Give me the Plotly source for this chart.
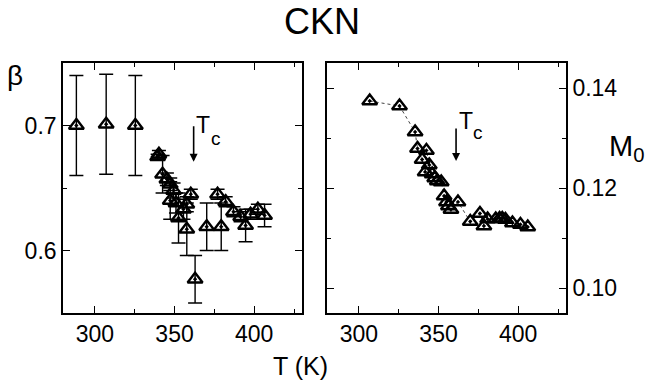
import plotly.graph_objects as go

# Left panel: beta vs T
T_beta = [288.4, 307.1, 325.4, 339.4, 340.2, 342.5, 345.2, 347.3, 347.3, 349.4, 350.9, 352.5,
          355.6, 357.7, 357.7, 360.2, 362.9, 370.2, 377.0, 379.3, 382.1, 387.0, 391.5, 394.6,
          397.7, 402.3, 406.5]
beta = [0.700, 0.701, 0.700, 0.675, 0.677, 0.661, 0.657, 0.653, 0.640, 0.648, 0.638, 0.626,
        0.633, 0.637, 0.617, 0.645, 0.577, 0.619, 0.645, 0.619, 0.639, 0.631, 0.627, 0.620,
        0.629, 0.633, 0.628]
beta_err = [0.040, 0.040, 0.040, 0.002, 0.003, 0.015, 0.005, 0.005, 0.015, 0.006, 0.008, 0.020,
            0.008, 0.006, 0.021, 0.004, 0.019, 0.019, 0.004, 0.019, 0.004, 0.004, 0.004, 0.013,
            0.004, 0.004, 0.009]

# Right panel: M0 vs T
T_m0 = [306.8, 325.5, 335.3, 336.8, 339.7, 341.6, 342.4, 344.2, 346.0, 347.6, 349.2, 351.7,
        353.5, 355.0, 356.2, 357.8, 362.2, 369.9, 376.0, 378.5, 380.8, 385.9, 388.3, 390.0,
        392.0, 396.4, 401.4, 406.0]
m0 = [0.1374, 0.1364, 0.1312, 0.1279, 0.1257, 0.1232, 0.1275, 0.1246, 0.1228, 0.1220, 0.1214,
      0.1212, 0.1184, 0.1172, 0.1164, 0.1157, 0.1172, 0.1133, 0.1149, 0.1124, 0.1138, 0.1138,
      0.1139, 0.1139, 0.1137, 0.1130, 0.1127, 0.1122]

Tc_beta = 362
Tc_m0 = 361

FONT = "Liberation Sans, Arial, sans-serif"
MARK = dict(symbol="triangle-up-open-dot", size=13, color="black", line=dict(width=2.4, color="black"))

fig = go.Figure()
fig.add_trace(go.Scatter(
    x=T_beta, y=beta, mode="markers", marker=MARK,
    error_y=dict(type="data", array=beta_err, visible=True, color="black", thickness=1.4, width=7),
    xaxis="x", yaxis="y", showlegend=False))
fig.add_trace(go.Scatter(
    x=T_m0, y=m0, mode="lines+markers",
    line=dict(color="#444", width=1, dash="dot"),
    marker=MARK, xaxis="x2", yaxis="y2", showlegend=False))

axis_common = dict(showline=True, linecolor="black", linewidth=1.6, mirror="ticks",
                   ticks="inside", ticklen=7, tickwidth=1.4, tickcolor="black",
                   showgrid=False, zeroline=False,
                   tickfont=dict(family=FONT, size=23, color="black"))
minor_common = dict(ticks="inside", ticklen=4, tickwidth=1.3, tickcolor="black")

fig.update_layout(
    width=647, height=388,
    margin=dict(l=0, r=0, t=0, b=0),
    paper_bgcolor="white", plot_bgcolor="white",
    xaxis=dict(domain=[63/647, 302/647], range=[280, 430], anchor="y",
               tickvals=[300, 350, 400], minor=dict(tickvals=[325, 375, 425], **minor_common),
               **axis_common),
    yaxis=dict(domain=[75/388, 325/388], range=[0.55, 0.75], anchor="x",
               tickvals=[0.6, 0.7], ticktext=["0.6", "0.7"],
               minor=dict(tickvals=[0.65], **minor_common),
               **axis_common),
    xaxis2=dict(domain=[327/647, 566/647], range=[280, 430], anchor="y2",
                tickvals=[300, 350, 400], minor=dict(tickvals=[325, 375, 425], **minor_common),
                **axis_common),
    yaxis2=dict(domain=[75/388, 325/388], range=[0.095, 0.145], anchor="x2", side="right",
                tickvals=[0.10, 0.12, 0.14], ticktext=["0.10", "0.12", "0.14"],
                minor=dict(tickvals=[0.11, 0.13], **minor_common),
                **axis_common),
    annotations=[
        dict(text="CKN", xref="paper", yref="paper", x=322/647, y=1-21/388, showarrow=False,
             font=dict(family=FONT, size=36, color="black"), xanchor="center", yanchor="middle"),
        dict(text="T (K)", xref="paper", yref="paper", x=300/647, y=1-366/388, showarrow=False,
             font=dict(family=FONT, size=25, color="black"), xanchor="center", yanchor="middle"),
        dict(text="β", xref="paper", yref="paper", x=15/647, y=1-76/388, showarrow=False,
             font=dict(family=FONT, size=28, color="black"), xanchor="center", yanchor="middle"),
        dict(text="M<sub>0</sub>", xref="paper", yref="paper", x=626/647, y=1-148/388, showarrow=False,
             font=dict(family=FONT, size=29, color="black"), xanchor="center", yanchor="middle"),
        dict(x=Tc_beta, y=0.671, xref="x", yref="y", ax=0, ay=-37, text="", showarrow=True,
             arrowhead=2, arrowsize=1, arrowwidth=1.6, arrowcolor="black"),
        dict(text="T", x=Tc_beta + 1.0, y=0.7005, xref="x", yref="y", showarrow=False,
             xanchor="left", yanchor="middle", borderpad=0,
             font=dict(family=FONT, size=23, color="black")),
        dict(text="c", x=Tc_beta + 10.0, y=0.6895, xref="x", yref="y", showarrow=False,
             xanchor="left", yanchor="middle", borderpad=0,
             font=dict(family=FONT, size=19, color="black")),
        dict(x=Tc_m0, y=0.1254, xref="x2", yref="y2", ax=0, ay=-34, text="", showarrow=True,
             arrowhead=2, arrowsize=1, arrowwidth=1.6, arrowcolor="black"),
        dict(text="T", x=Tc_m0 + 1.0, y=0.1335, xref="x2", yref="y2", showarrow=False,
             xanchor="left", yanchor="middle", borderpad=0,
             font=dict(family=FONT, size=23, color="black")),
        dict(text="c", x=Tc_m0 + 10.0, y=0.1312, xref="x2", yref="y2", showarrow=False,
             xanchor="left", yanchor="middle", borderpad=0,
             font=dict(family=FONT, size=19, color="black")),
    ],
)

fig.write_html("out.html")
